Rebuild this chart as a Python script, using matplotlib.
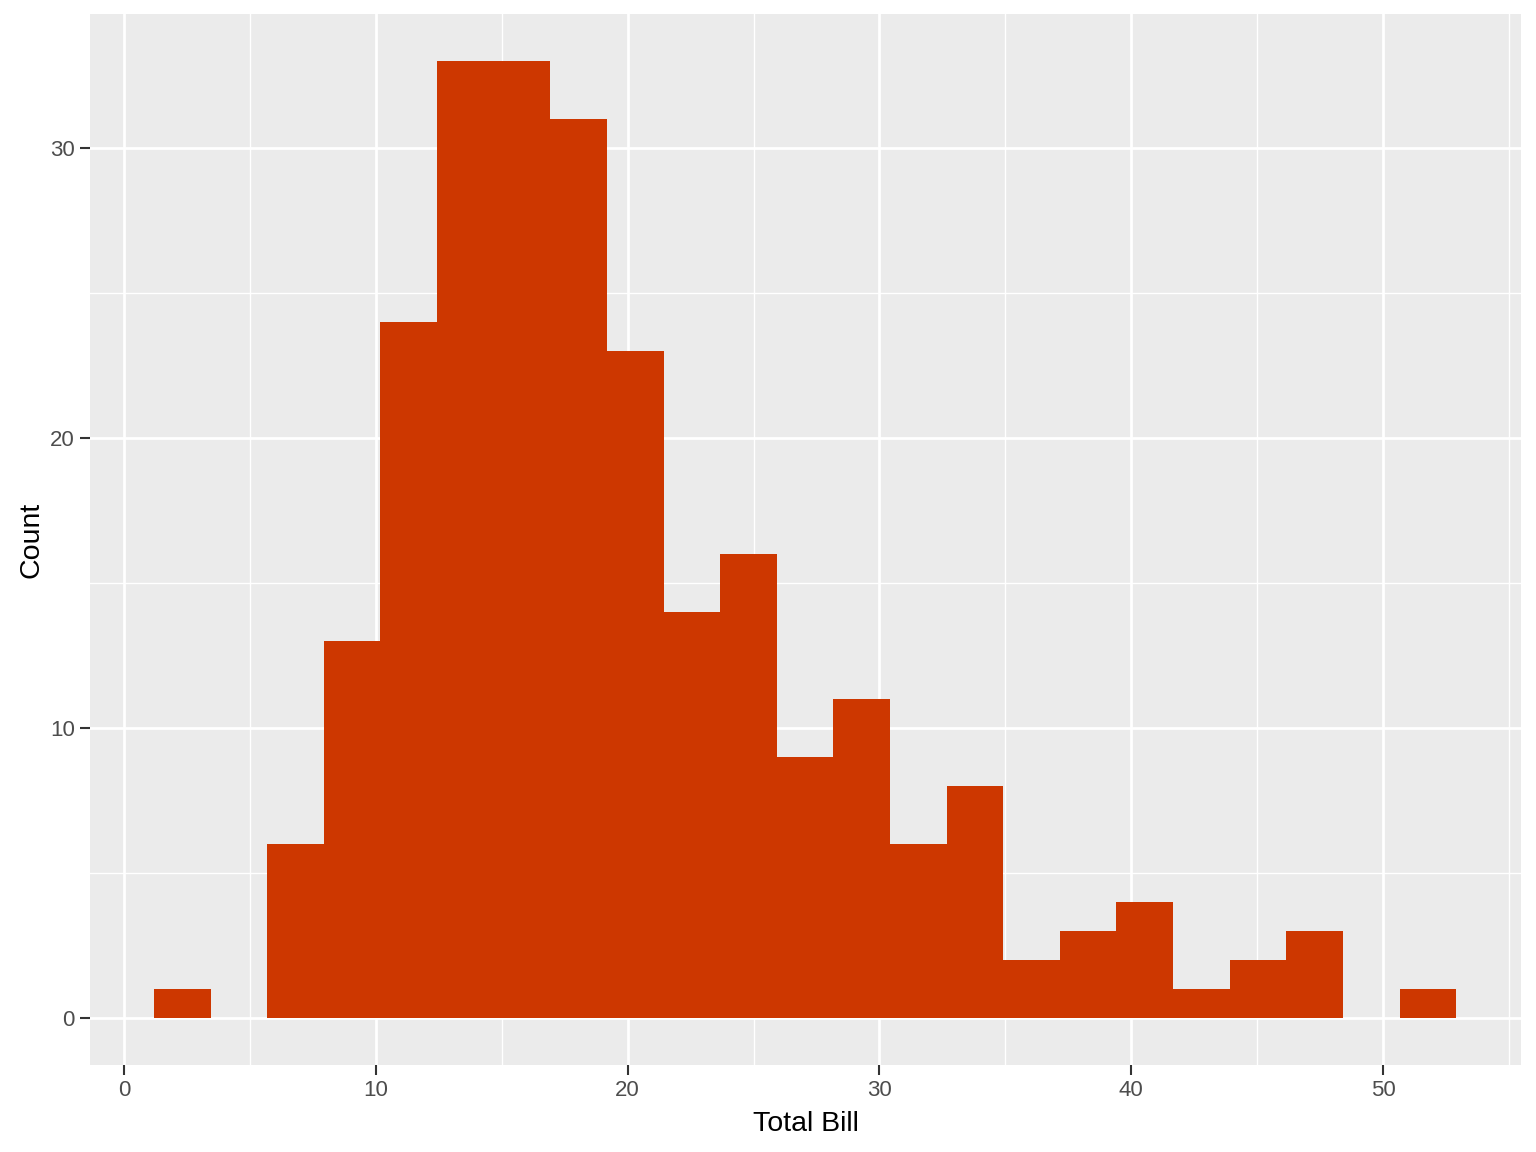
import numpy as np
import matplotlib.pyplot as plt

# Histograma do total da conta (tips)
inicio_bins = 1.19
largura_bin = 2.2485
contagens = [1, 0, 6, 13, 24, 33, 33, 31, 23, 14, 16, 9, 11, 6, 8, 2, 3, 4, 1, 2, 3, 0, 1]
limites = inicio_bins + largura_bin * np.arange(len(contagens) + 1)

plt.rcParams['font.family'] = ['Liberation Sans', 'DejaVu Sans']

fig = plt.figure(figsize=(15.36, 11.52), dpi=100)
ax = fig.add_axes([90 / 1536, 1 - 1065 / 1152, (1521 - 90) / 1536, (1065 - 14) / 1152])
ax.set_facecolor('#EBEBEB')

# Grades (maiores e menores)
ax.set_xticks([0, 10, 20, 30, 40, 50])
ax.set_xticks([5, 15, 25, 35, 45, 55], minor=True)
ax.set_yticks([0, 10, 20, 30])
ax.set_yticks([5, 15, 25], minor=True)
ax.grid(True, which='major', color='white', linewidth=2.0)
ax.grid(True, which='minor', color='white', linewidth=1.0)
ax.set_axisbelow(True)

ax.bar(limites[:-1], contagens, width=largura_bin, align='edge', color='#CD3700', linewidth=0)

ax.set_xlim(-1.35, 55.48)
ax.set_ylim(-1.62, 34.62)

for lado in ax.spines.values():
    lado.set_visible(False)

ax.tick_params(which='major', length=7, width=1.5, color='#333333', labelsize=16, labelcolor='#4D4D4D', pad=4)
ax.tick_params(which='minor', length=0)

ax.set_xlabel('Total Bill', fontsize=20.5, color='black', labelpad=7)
ax.set_ylabel('Count', fontsize=20.5, color='black', labelpad=4)

plt.savefig('out.png', dpi=100)
